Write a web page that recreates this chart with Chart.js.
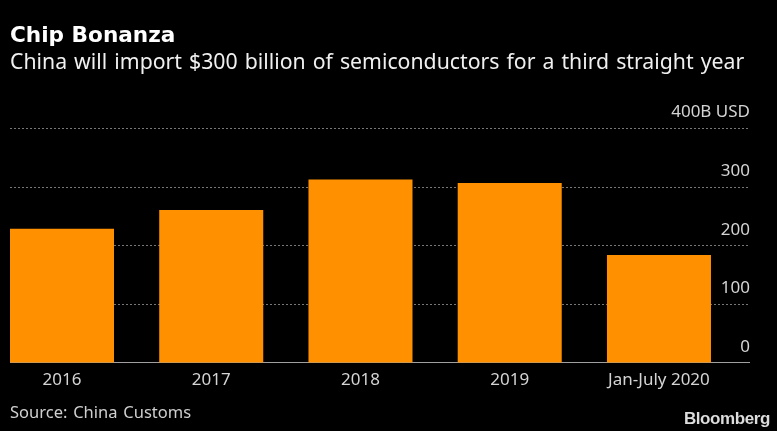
<!DOCTYPE html>
<html>
<head>
<meta charset="utf-8">
<title>Chip Bonanza</title>
<script src="https://cdn.jsdelivr.net/npm/chart.js@4"></script>
<style>
	html, body { margin: 0; padding: 0; background: #000; width: 777px; height: 431px; overflow: hidden; }
	.wrap { position: relative; width: 777px; height: 431px; }
	.txt { position: absolute; white-space: nowrap; font-family: "Noto Sans", sans-serif; }
	#head { left: 10px; top: 22px; font-family: "DejaVu Sans", sans-serif; font-size: 21.6px; font-weight: bold; color: #fff; }
	#sub { left: 10px; top: 46px; font-size: 21.25px; color: #f0f0f0; word-spacing: 1.5px; }
	#source { left: 10px; top: 400px; font-size: 16.5px; color: #cfcfcf; word-spacing: 1.5px; }
	#brand { right: 7px; top: 409px; font-family: "Liberation Sans", sans-serif; font-size: 17px; font-weight: bold; color: #dcdcdc; letter-spacing: -0.4px; }
</style>
</head>
<body>
<div class="wrap">
	<canvas id="chip_chart" width="777" height="431"></canvas>
	<div class="txt" id="head">Chip Bonanza</div>
	<div class="txt" id="sub">China will import $300 billion of semiconductors for a third straight year</div>
	<div class="txt" id="source">Source: China Customs</div>
	<div class="txt" id="brand">Bloomberg</div>
</div>
<script>
const categories = ["2016", "2017", "2018", "2019", "Jan-July 2020"];
const imports = [229, 261, 313, 307, 184];
const yTicks = [0, 100, 200, 300, 400];
const yTopLabel = "400B USD";

const GRID_GREY = "#777777";
const LABEL_GREY = "#d4d4d4";
const FONT = { family: "'Noto Sans', sans-serif", size: 17 };

new Chart(document.getElementById("chip_chart"), {
	type: "bar",
	data: {
		datasets: [{
			data: imports.map((v, i) => ({ x: i, y: v })),
			backgroundColor: "#ff9100",
			borderWidth: 0,
			barPercentage: 1,
			categoryPercentage: 0.697,
		}]
	},
	options: {
		responsive: false,
		animation: false,
		layout: { padding: { left: 10, right: 27, top: 128.5, bottom: 41.7 } },
		plugins: { legend: { display: false }, tooltip: { enabled: false } },
		scales: {
			// linear so the first bar can sit flush with the plot's left edge
			x: {
				type: "linear",
				offset: false,
				min: -0.3484,
				max: 4.61,
				grid: { display: false },
				border: { display: false },
				ticks: {
					padding: -1,
					autoSkip: false,
					maxRotation: 0,
					color: LABEL_GREY,
					font: FONT,
					callback: (v) => categories[v],
				},
				afterBuildTicks: (scale) => {
					scale.ticks = categories.map((c, i) => ({ value: i }));
				},
			},
			y: {
				position: "right",
				min: 0,
				max: 400,
				afterBuildTicks: (scale) => {
					scale.ticks = yTicks.map((v) => ({ value: v }));
				},
				grid: {
					drawTicks: false,
					lineWidth: 1,
					color: (ctx) => ctx.tick.value === 0 ? "#a0a0a0" : GRID_GREY,
				},
				border: {
					display: false,
					dash: (ctx) => ctx.tick.value === 0 ? [] : [2, 2],
				},
				ticks: {
					mirror: true,
					padding: 0,
					labelOffset: -16,
					color: LABEL_GREY,
					font: FONT,
					callback: (v) => v === 400 ? yTopLabel : String(v),
				},
			},
		},
	},
});
</script>
</body>
</html>
